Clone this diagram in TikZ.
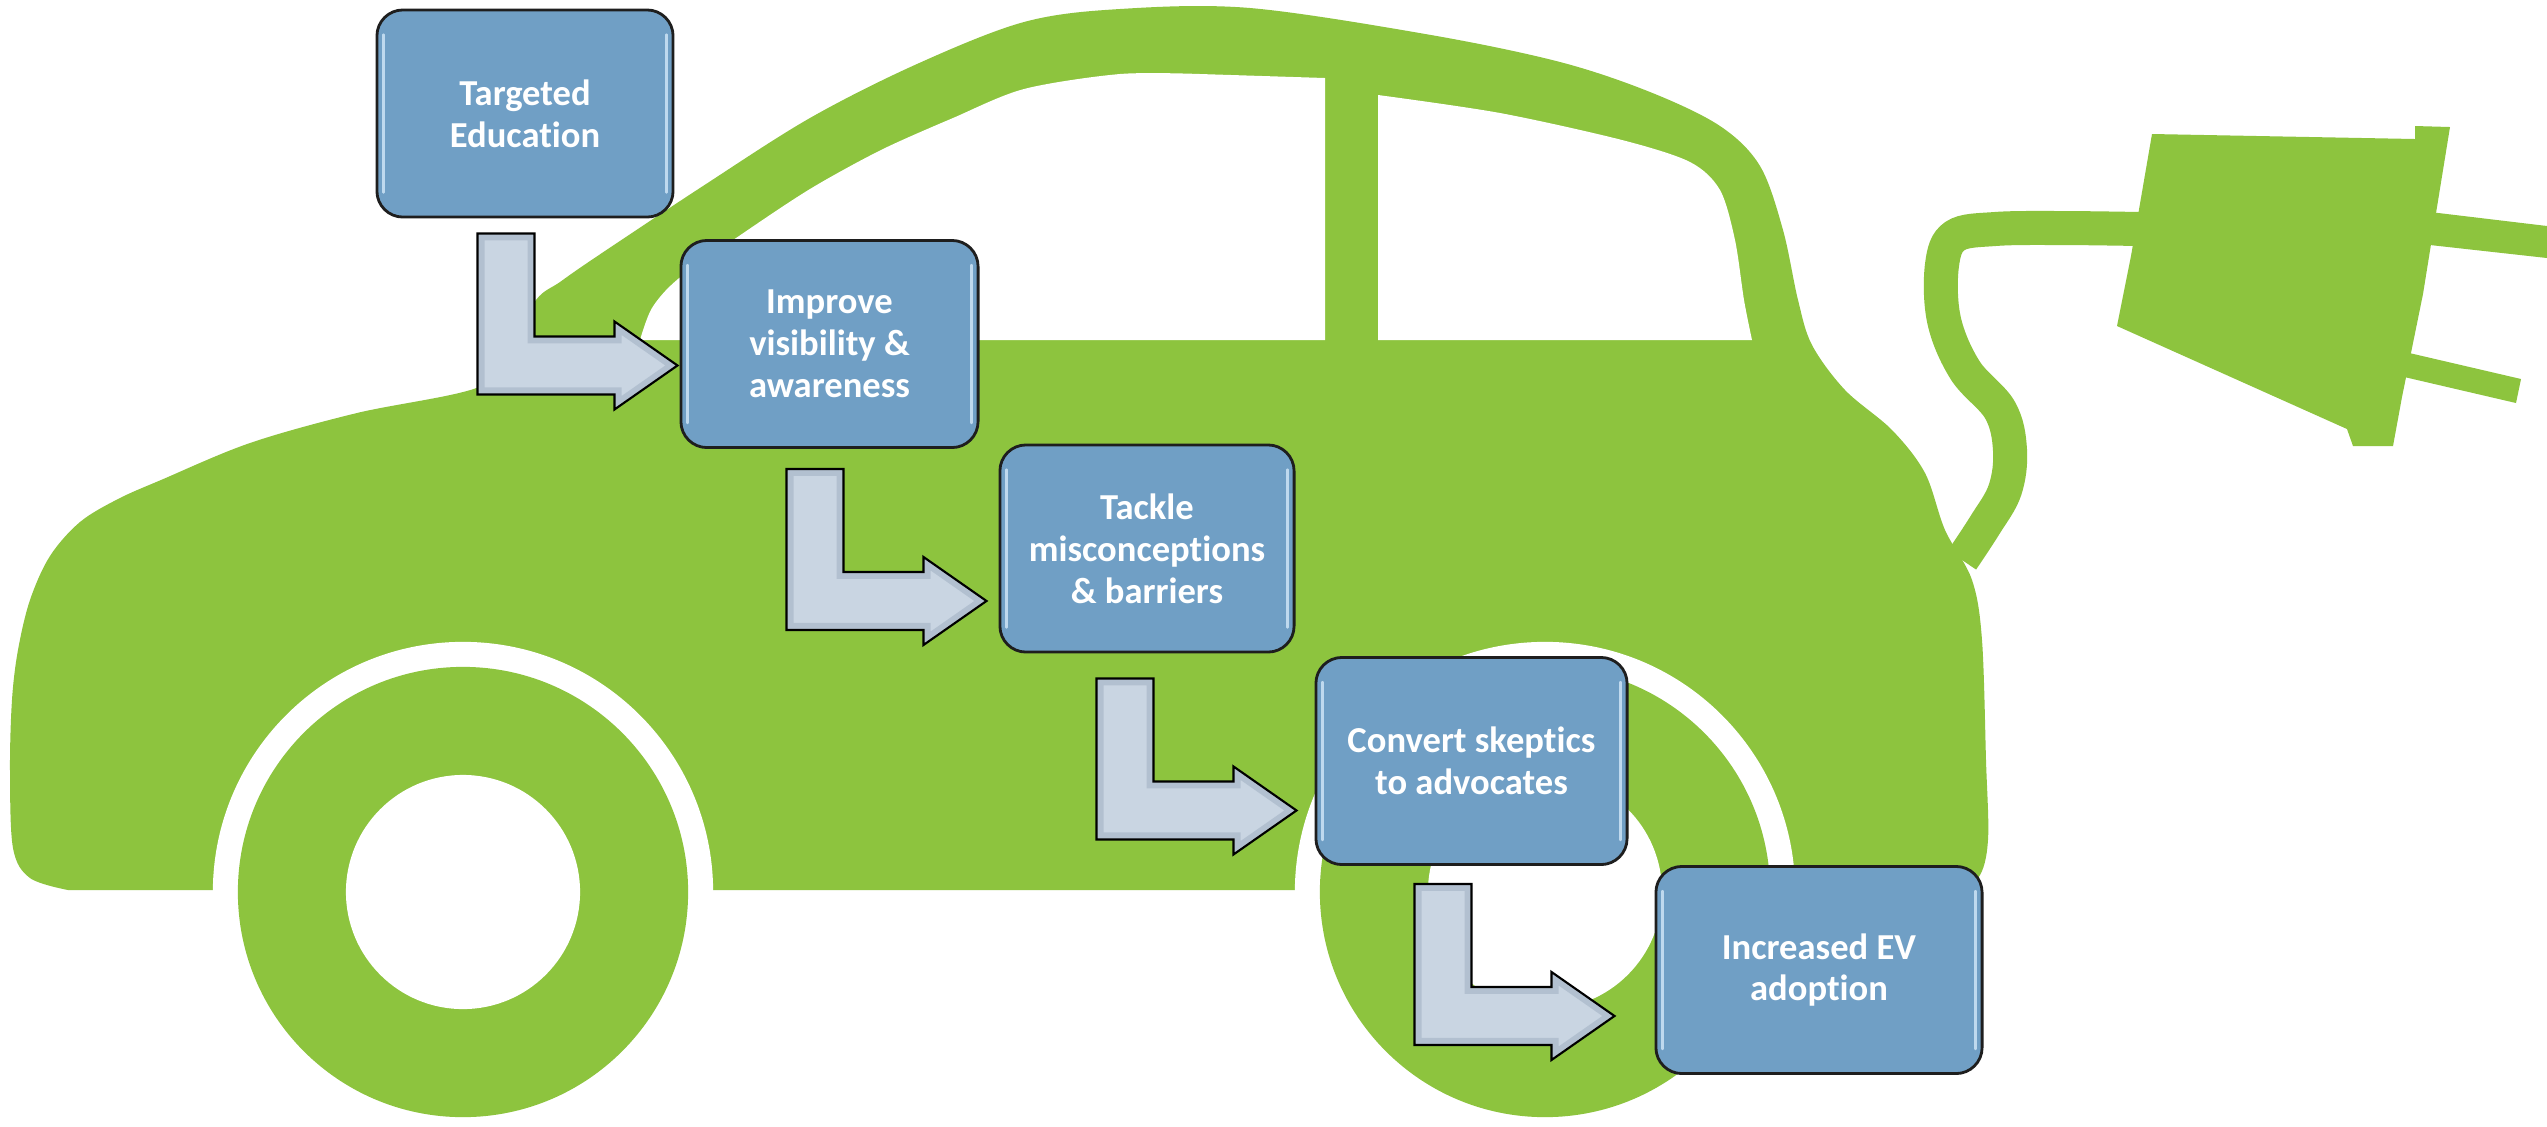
\documentclass[tikz,border=0pt]{standalone}
\usepackage{fontspec}
\setmainfont{Carlito}[Ligatures=NoCommon]
\usetikzlibrary{calc}
\definecolor{carg}{RGB}{141,196,62}
\definecolor{boxblue}{RGB}{112,159,197}
\definecolor{boxline}{RGB}{30,30,30}
\definecolor{arrowfill}{RGB}{201,213,226}
\definecolor{arrowedge}{RGB}{160,176,194}
\definecolor{gloss}{RGB}{205,228,246}
\tikzset{
  stepbox/.style={draw=boxline, line width=0.8pt, fill=boxblue, rounded corners=0.26cm,
    text=white, align=center, font=\bfseries\fontsize{10.4}{11.9}\selectfont,
    inner sep=0pt, minimum height=2.07cm},
  bentarrow/.style={draw=black, line width=0.6pt, line join=miter},
  glossline/.style={draw=gloss, line width=0.025cm, line cap=round, opacity=0.85},
  carfill/.style={fill=carg},
}
\newcommand{\arrowpath}{-- ++(57,0) -- ++(0,103) -- ++(80,0) -- ++(0,-15)
    -- ++(63,44) -- ++(-63,44) -- ++(0,-15) -- ++(-137,0) -- cycle}
\newcommand{\bendarrow}[1]{%
  \begin{scope}
    \clip (#1) \arrowpath;
    \fill[arrowfill] (#1) \arrowpath;
    \draw[arrowedge, line width=0.14cm, opacity=0.55, line join=miter] (#1) \arrowpath;
  \end{scope}
  \draw[bentarrow] (#1) \arrowpath;}
\begin{document}
\begin{tikzpicture}[x=0.01cm, y=-0.01cm]
\useasboundingbox (0,0) rectangle (2547,1126);
\fill[white] (0,0) rectangle (2547,1126);
\begin{scope}
\clip (0,0) rectangle (2547,1126);
% cable
\draw[carg, line width=0.34cm] plot[smooth, tension=0.6] coordinates {(1962,560) (1985,525) (2005,490) (2010,450) (2000,410) (1965,370) (1944,320) (1942,265) (1955,236) (1995,229) (2060,228) (2140,229)};
% car silhouette
\fill[carfill] plot[smooth, tension=0.55] coordinates {(68,890) (30,878) (13,848) (10,770) (12,700) (18,650) (30,600) (50,556) (80,522) (118,499) (161,480) (250,443) (357,413) (479,387) (508,350) (536,300) (560,282) (596,257) (703,186) (810,118) (917,64) (1024,22) (1120,9) (1250,8) (1431,35) (1560,62) (1650,92) (1720,126) (1760,166) (1783,230) (1798,300) (1812,345) (1845,390) (1892,430) (1925,473) (1945,530) (1972,580) (1982,640) (1986,760) (1988,840) (1978,878) (1950,890)} -- cycle;
% windows
\fill[white] plot[smooth, tension=0.5] coordinates {(640,340) (652,308) (678,279) (739,236) (810,189) (881,150) (953,118) (1024,89) (1120,74) (1200,74)} -- (1325,78) -- (1325,340) -- cycle;
\fill[white] (1378,340) -- plot[smooth, tension=0.5] coordinates {(1378,95) (1500,113) (1622,140) (1690,162) (1720,190) (1735,240) (1744,300) (1752,340)} -- cycle;
% wheels
\foreach \cx in {463,1545} {
  \fill[white] (\cx,892) circle[radius=2.5cm];
  \fill[carg] (\cx,892) circle[radius=2.25cm];
  \fill[white] (\cx,892) circle[radius=1.17cm];
}
% plug
\fill[carfill] (2152,134) -- (2415,139) -- (2415,126) -- (2450,127) -- (2437,207) -- (2423,294) -- (2402,397) -- (2393,446) -- (2353,446) -- (2347,429) -- (2117,326) -- (2131,256) -- cycle;
\fill[carfill] (2430,212) -- (2547,226) -- (2547,258) -- (2430,245) -- cycle;
\fill[carfill] (2405,352) -- (2521,379) -- (2516,403) -- (2400,376) -- cycle;
\end{scope}
% boxes
\node[stepbox, minimum width=2.96cm] (b1) at (525,113.5) {Targeted\\Education};
\node[stepbox, minimum width=2.97cm] (b2) at (829.5,344) {Improve\\visibility \&\\awareness};
\node[stepbox, minimum width=2.94cm] (b3) at (1147,548.5) {Tackle\\misconceptions\\\& barriers};
\node[stepbox, minimum width=3.11cm] (b4) at (1471.5,761) {Convert skeptics\\to advocates};
\node[stepbox, minimum width=3.26cm] (b5) at (1819,970) {Increased EV\\adoption};
\foreach \b in {b1,b2,b3,b4,b5} {
  \draw[glossline] ($(\b.north west)+(8,26)$) -- ($(\b.south west)+(8,-26)$);
  \draw[glossline] ($(\b.north east)+(-8,26)$) -- ($(\b.south east)+(-8,-26)$);
}
% bent arrows between steps
\coordinate (a1) at ($(b1.south west)+(102,15)$);
\coordinate (a2) at ($(b2.south west)+(107,20)$);
\coordinate (a3) at ($(b3.south west)+(98,25)$);
\coordinate (a4) at ($(b4.south west)+(100,18)$);
\bendarrow{a1}
\bendarrow{a2}
\bendarrow{a3}
\bendarrow{a4}
\end{tikzpicture}
\end{document}
